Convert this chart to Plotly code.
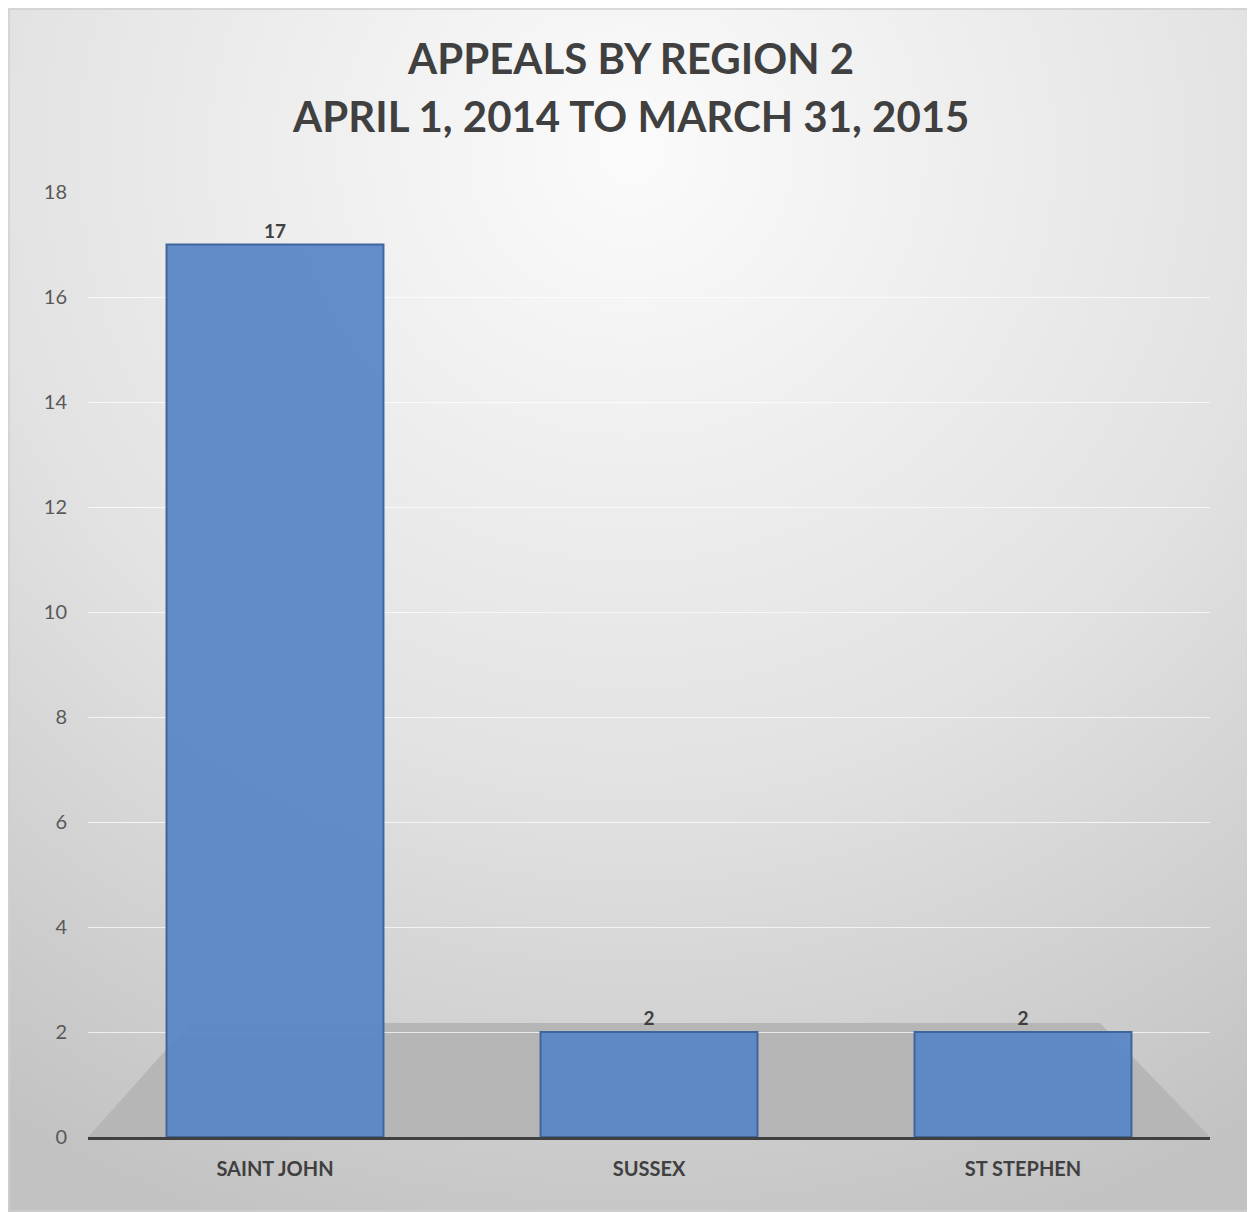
import base64
import plotly.graph_objects as go

# ---- data ----
regions = ["SAINT JOHN", "SUSSEX", "ST STEPHEN"]
appeals = [17, 2, 2]
y_ticks = [0, 2, 4, 6, 8, 10, 12, 14, 16, 18]
title_line1 = "APPEALS BY REGION 2"
title_line2 = "APRIL 1, 2014 TO MARCH 31, 2015"

OFF = 8  # page body margin
W, H = 1255 - OFF, 1212 - OFF
ML, MR, MT, MB = 88 - OFF, 45, 192 - OFF, 75
PW, PH = W - ML - MR, H - MT - MB

def px_x(px):
    return (px - OFF - ML) / PW

def px_y(py):
    return (H - MB - (py - OFF)) / PH

# background gradient as an inline SVG
svg = (
    f'<svg xmlns="http://www.w3.org/2000/svg" width="{W}" height="{H}">'
    '<defs><radialGradient id="g" cx="0.5" cy="0.12" r="0.95">'
    '<stop offset="0" stop-color="#fbfbfb"/>'
    '<stop offset="0.55" stop-color="#e2e2e2"/>'
    '<stop offset="1" stop-color="#c2c2c2"/>'
    '</radialGradient></defs>'
    '<rect width="100%" height="100%" fill="url(#g)"/></svg>'
)
bg_src = "data:image/svg+xml;base64," + base64.b64encode(svg.encode()).decode()

fig = go.Figure()
fig.add_trace(go.Bar(
    x=regions,
    y=appeals,
    width=0.58,
    marker=dict(color="rgba(91,135,197,0.95)", line=dict(color="#3f659c", width=2)),
    text=[str(v) for v in appeals],
    textposition="outside",
    textfont=dict(family="Lato", size=19, color="#404040", weight="bold"),
    cliponaxis=False,
    hoverinfo="x+y",
))

# floor (decorative trapezoid)
floor_path = (
    f"M {px_x(88)},{px_y(1137)} L {px_x(190)},{px_y(1023)} "
    f"L {px_x(1100)},{px_y(1023)} L {px_x(1210)},{px_y(1137)} Z"
)

fig.update_layout(
    width=W, height=H,
    margin=dict(l=ML, r=MR, t=MT, b=MB),
    paper_bgcolor="#dcdcdc",
    plot_bgcolor="rgba(0,0,0,0)",
    showlegend=False,
    font=dict(family="Lato", color="#595959"),
    images=[dict(
        source=bg_src, xref="paper", yref="paper",
        x=-ML / PW, y=1 + MT / PH, sizex=W / PW, sizey=H / PH,
        xanchor="left", yanchor="top", sizing="stretch", layer="below",
    )],
    shapes=[
        dict(type="path", path=floor_path, xref="paper", yref="paper",
             fillcolor="#b6b6b6", line=dict(width=0), layer="below"),
        dict(type="rect", xref="paper", yref="paper",
             x0=-ML / PW + 0.001, x1=1 + MR / PW - 0.001,
             y0=-MB / PH + 0.001, y1=1 + MT / PH - 0.001,
             line=dict(color="#d0d0d0", width=1.5), fillcolor="rgba(0,0,0,0)",
             layer="above"),
    ],
    annotations=[
        dict(text=title_line1, xref="paper", yref="paper",
             x=px_x(630), y=px_y(58), showarrow=False,
             font=dict(family="Lato", size=42, color="#404040", weight="bold"),
             xanchor="center", yanchor="middle"),
        dict(text=title_line2, xref="paper", yref="paper",
             x=px_x(630), y=px_y(116), showarrow=False,
             font=dict(family="Lato", size=42, color="#404040", weight="bold"),
             xanchor="center", yanchor="middle"),
    ],
    xaxis=dict(
        showgrid=False, zeroline=False,
        showline=True, linecolor="#404040", linewidth=3,
        ticks="", ticklabelstandoff=12,
        tickfont=dict(family="Lato", size=20, color="#404040", weight="bold"),
        range=[-0.5, 2.5],
    ),
    yaxis=dict(
        range=[0, 18], tickvals=y_ticks,
        showgrid=True, gridcolor="rgba(255,255,255,0.7)", gridwidth=1.2,
        zeroline=False, showline=False, ticks="",
        ticklabelstandoff=20,
        tickfont=dict(family="Lato", size=20, color="#595959"),
    ),
)

fig.write_html("out.html")
